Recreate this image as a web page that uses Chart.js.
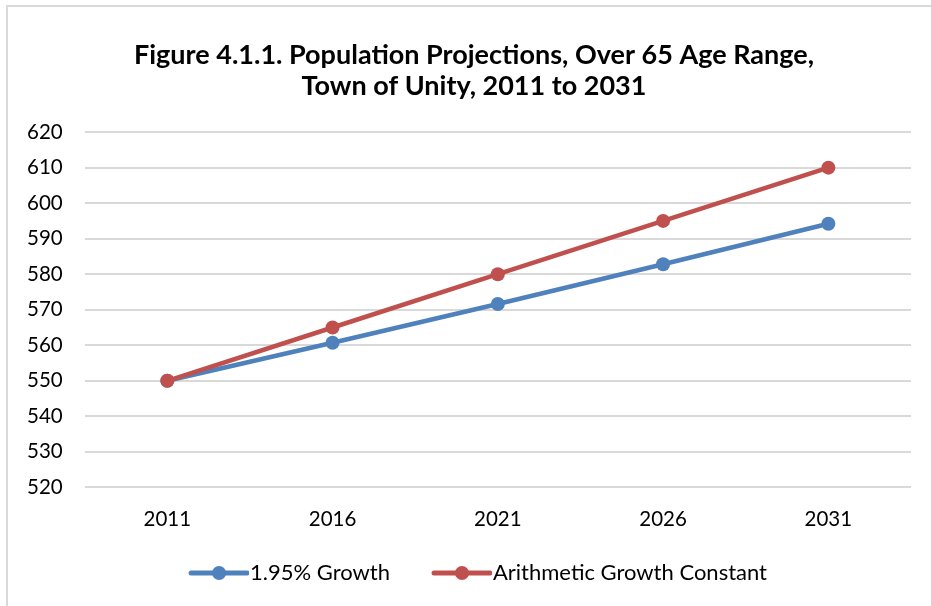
<!DOCTYPE html>
<html>
<head>
<meta charset="utf-8">
<script src="https://cdn.jsdelivr.net/npm/chart.js@4"></script>
<style>
  body { margin: 0; background: #fff; }
  #frame { position: absolute; left: 6px; top: 5px; width: 940px; height: 620px; border: 2px solid #d9d9d9; }
  #wrap { position: absolute; left: 0; top: 0; width: 931px; height: 606px; }
</style>
</head>
<body>
<div id="frame"></div>
<div id="wrap"><canvas id="grafico"></canvas></div>
<script>
// Dados do gráfico
const anos = ['2011', '2016', '2021', '2026', '2031'];
const crescimento195 = [550, 560.7, 571.6, 582.8, 594.2];
const crescimentoAritmetico = [550, 565, 580, 595, 610];
const tituloLinhas = ['Figure 4.1.1. Population Projections, Over 65 Age Range,', 'Town of Unity, 2011 to 2031'];

const fonte = "Lato, 'Open Sans', sans-serif";
const larguraCaixa = 82;

// ícone da legenda: linha com bolinha, encostado à direita (perto do texto)
function iconeLegenda(cor) {
  const c = document.createElement('canvas');
  c.width = larguraCaixa + 20; c.height = 18;
  const g = c.getContext('2d');
  const fim = larguraCaixa + 18, ini = fim - 56;
  g.strokeStyle = cor; g.lineWidth = 5; g.lineCap = 'round';
  g.beginPath(); g.moveTo(ini, 9); g.lineTo(fim, 9); g.stroke();
  g.fillStyle = cor;
  g.beginPath(); g.arc((ini + fim) / 2, 9, 7, 0, Math.PI * 2); g.fill();
  return c;
}

// centraliza título e legenda como no original
const ajusteCentro = {
  id: 'ajusteCentro',
  afterLayout(chart) {
    chart.titleBlock.left += 16; chart.titleBlock.right += 16;
    chart.legend.left += 4; chart.legend.right += 4;
  }
};

const ctx = document.getElementById('grafico').getContext('2d');
new Chart(ctx, {
  type: 'line',
  data: {
    labels: anos,
    datasets: [{
      label: '1.95% Growth',
      data: crescimento195,
      borderColor: '#4f81bd',
      backgroundColor: '#4f81bd',
      borderWidth: 4.5,
      pointRadius: 7,
      pointHoverRadius: 7,
      pointBorderWidth: 0,
      order: 1
    }, {
      label: 'Arithmetic Growth Constant',
      data: crescimentoAritmetico,
      borderColor: '#c0504d',
      backgroundColor: '#c0504d',
      borderWidth: 4.5,
      pointRadius: 7,
      pointHoverRadius: 7,
      pointBorderWidth: 0,
      order: 0
    }]
  },
  options: {
    responsive: true,
    maintainAspectRatio: false,
    animation: false,
    layout: { padding: { left: 5, right: 20, top: 0, bottom: 12 } },
    plugins: {
      title: {
        display: true,
        text: tituloLinhas,
        color: '#000',
        font: { family: fonte, size: 27, weight: 'bold', lineHeight: 1.15 },
        padding: { top: 40, bottom: 30 }
      },
      legend: {
        position: 'bottom',
        labels: {
          color: '#000',
          font: { family: fonte, size: 22 },
          usePointStyle: true,
          pointStyleWidth: larguraCaixa,
          padding: 10,
          generateLabels: function (chart) {
            return chart.data.datasets.map((ds, i) => ({
              text: ds.label,
              fillStyle: ds.borderColor,
              strokeStyle: ds.borderColor,
              lineWidth: 0,
              pointStyle: iconeLegenda(ds.borderColor),
              datasetIndex: i,
              hidden: false
            }));
          }
        }
      },
      tooltip: { enabled: false }
    },
    scales: {
      x: {
        offset: true,
        grid: { display: false, drawTicks: false },
        border: { display: false },
        ticks: { color: '#000', font: { family: fonte, size: 20.5 }, padding: 20 }
      },
      y: {
        min: 520,
        max: 620,
        ticks: { stepSize: 10, color: '#000', font: { family: fonte, size: 20.5 }, padding: 22 },
        grid: { color: '#d9d9d9', lineWidth: 2, drawTicks: false },
        border: { display: false }
      }
    }
  },
  plugins: [ajusteCentro]
});
</script>
</body>
</html>
